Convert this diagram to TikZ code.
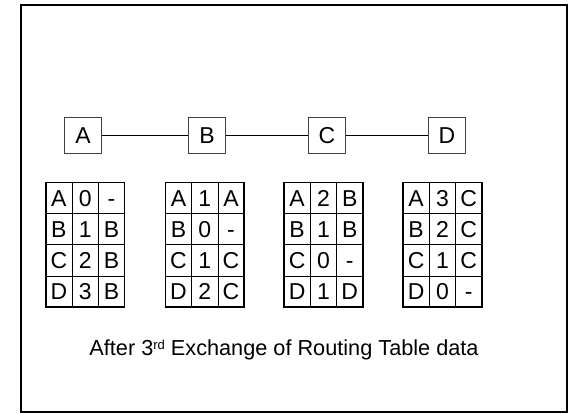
\documentclass[tikz,border=0pt]{standalone}
\usepackage{fontspec}
\setmainfont{Liberation Sans}
\begin{document}
\begin{tikzpicture}[x=1pt,y=-1pt,
  router/.style={draw=black!75,line width=1pt,fill=white,minimum width=37pt,minimum height=36pt,inner sep=0pt,text height=16.5pt,text depth=0pt,font=\fontsize{23}{26}\selectfont},
  cell/.style={draw=black,line width=0.8pt,minimum width=26.3pt,minimum height=31.2pt,inner sep=0pt,outer sep=0pt,text height=16.5pt,text depth=0pt,font=\fontsize{23}{26}\selectfont},
  link/.style={line width=1pt,black},
  caption/.style={font=\fontsize{21.7}{24}\selectfont,anchor=base}]
\useasboundingbox (0,0) rectangle (572,413);
\draw[line width=2pt] (20.5,4.5) rectangle (566.5,411.5);
\node[router] (A) at (83,135) {A};
\node[router] (B) at (207,135) {B};
\node[router] (C) at (327,135) {C};
\node[router] (D) at (447,135) {D};
\draw[link] (A) -- (B);
\draw[link] (B) -- (C);
\draw[link] (C) -- (D);
\foreach \t/\x/\rows in {1/45.7/{A/0/-,B/1/B,C/2/B,D/3/B},
                        2/165.3/{A/1/A,B/0/-,C/1/C,D/2/C},
                        3/284/{A/2/B,B/1/B,C/0/-,D/1/D},
                        4/403/{A/3/C,B/2/C,C/1/C,D/0/-}}{
  \foreach \a/\b/\c [count=\i from 0] in \rows {
    \node[cell] (t\t-\i-a) at (\x+13.15,182.3+15.6+31.2*\i) {\a};
    \node[cell] (t\t-\i-b) at (\x+39.45,182.3+15.6+31.2*\i) {\b};
    \node[cell] (t\t-\i-c) at (\x+65.75,182.3+15.6+31.2*\i) {\c};
  }
  \draw[line width=1.6pt] (t\t-0-a.north west) rectangle (t\t-3-c.south east);
}
\node[caption] (cap) at (284,355) {After 3\raisebox{5.5pt}{\fontsize{13}{13}\selectfont rd} Exchange of Routing Table data};
\end{tikzpicture}
\end{document}
